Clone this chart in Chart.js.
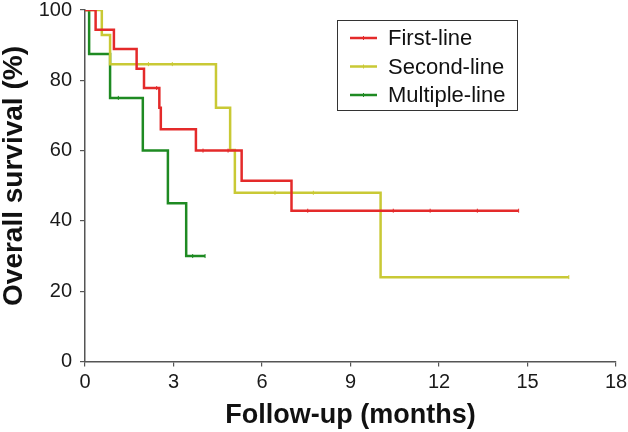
<!DOCTYPE html>
<html>
<head>
<meta charset="utf-8">
<script src="https://cdn.jsdelivr.net/npm/chart.js@4"></script>
<style>
  body { margin: 0; background: #fff; }
  canvas { display: block; }
</style>
</head>
<body>
<canvas id="chart" width="628" height="432"></canvas>
<script>
// Kaplan-Meier curves (months, % surviving, censored?)
const firstTimes  = [0, 0.36, 0.98, 1.75, 2.0, 2.43, 2.52, 2.57, 3.76, 4.0, 4.85, 5.31, 7.0, 7.55, 10.45, 11.7, 13.3, 14.7];
const firstSurv   = [100, 94.4, 88.9, 83.3, 77.8, 77.8, 72.2, 66.1, 60.0, 60.0, 60.0, 51.4, 42.9, 42.9, 42.9, 42.9, 42.9, 42.9];
const firstCens   = [0, 0, 0, 0, 0, 1, 0, 0, 0, 1, 1, 0, 0, 1, 1, 1, 1, 1];

const secondTimes = [0, 0.57, 0.85, 2.15, 2.96, 4.44, 4.92, 5.08, 6.44, 7.74, 10.02, 16.4];
const secondSurv  = [100, 92.9, 84.6, 84.6, 84.6, 72.2, 60.2, 48.0, 48.0, 48.0, 24.0, 24.0];
const secondCens  = [0, 0, 0, 1, 1, 0, 0, 0, 1, 1, 0, 1];

const multiTimes  = [0, 0.14, 0.85, 1.13, 1.96, 2.81, 3.43, 3.65, 4.07];
const multiSurv   = [100, 87.5, 75, 75, 60, 45, 30, 30, 30];
const multiCens   = [0, 0, 0, 1, 0, 0, 0, 1, 1];

const seriesLabels = ['First-line', 'Second-line', 'Multiple-line'];
const seriesColors = ['#e42a2a', '#c9c935', '#1e8a22'];

const xTicks = [0, 3, 6, 9, 12, 15, 18];
const yTicks = [0, 20, 40, 60, 80, 100];

const FONT = '"Liberation Sans", Arial, Helvetica, sans-serif';

function makeSet(label, color, times, surv, cens) {
  return {
    label: label,
    data: times.map((t, i) => ({ x: t, y: surv[i] })),
    borderColor: color,
    backgroundColor: color,
    borderWidth: 2.5,
    stepped: true,
    fill: false,
    pointStyle: 'line',
    rotation: 90,
    pointRadius: cens.map(c => (c ? 2 : 0)),
    pointBorderWidth: 1,
    pointHoverRadius: 0,
  };
}

// boxed legend in the upper right of the plot
const boxLegend = {
  id: 'boxLegend',
  afterDraw(chart) {
    const ctx = chart.ctx;
    const a = chart.chartArea;
    const left = a.left + 252, top = a.top + 10;
    const w = 180, h = 90;
    ctx.save();
    ctx.strokeStyle = '#333';
    ctx.lineWidth = 1;
    ctx.strokeRect(left + 0.5, top + 0.5, w, h);
    ctx.font = '22px ' + FONT;
    ctx.textBaseline = 'middle';
    chart.data.datasets.forEach((ds, i) => {
      const y = top + 18 + i * 28.5;
      ctx.strokeStyle = ds.borderColor;
      ctx.lineWidth = 2.5;
      ctx.beginPath();
      ctx.moveTo(left + 13, y);
      ctx.lineTo(left + 40, y);
      ctx.stroke();
      ctx.lineWidth = 1;
      ctx.beginPath();
      ctx.moveTo(left + 26.5, y - 2);
      ctx.lineTo(left + 26.5, y + 2);
      ctx.stroke();
      ctx.fillStyle = '#111';
      ctx.fillText(ds.label, left + 51, y + 1);
    });
    ctx.restore();
  }
};

// y axis title sits a little above the middle of the axis in the original
const yTitle = {
  id: 'yTitle',
  afterDraw(chart) {
    const ctx = chart.ctx;
    ctx.save();
    ctx.translate(14, 176);
    ctx.rotate(-Math.PI / 2);
    ctx.font = 'bold 28px ' + FONT;
    ctx.fillStyle = '#111';
    ctx.textAlign = 'center';
    ctx.textBaseline = 'middle';
    ctx.fillText('Overall survival (%)', 0, 0);
    ctx.restore();
  }
};

new Chart(document.getElementById('chart').getContext('2d'), {
  type: 'line',
  data: {
    datasets: [
      makeSet(seriesLabels[0], seriesColors[0], firstTimes, firstSurv, firstCens),
      makeSet(seriesLabels[1], seriesColors[1], secondTimes, secondSurv, secondCens),
      makeSet(seriesLabels[2], seriesColors[2], multiTimes, multiSurv, multiCens),
    ],
  },
  options: {
    responsive: false,
    animation: false,
    layout: { padding: { top: 10, right: 12, left: 0, bottom: 0 } },
    plugins: {
      legend: { display: false },
      tooltip: { enabled: false },
    },
    scales: {
      x: {
        type: 'linear',
        min: 0,
        max: 18,
        afterBuildTicks: (s) => { s.ticks = xTicks.map(v => ({ value: v })); },
        afterFit: (s) => { s.height = 70.5; s.paddingLeft = 0; s.paddingRight = 0; },
        ticks: { color: '#1a1a1a', font: { family: FONT, size: 20 }, padding: 4, maxRotation: 0 },
        grid: { drawOnChartArea: false, drawTicks: true, tickLength: 5, color: '#555', lineWidth: 1.2 },
        border: { display: true, color: '#555', width: 1.5 },
        title: {
          display: true,
          text: 'Follow-up (months)',
          color: '#111',
          font: { family: FONT, size: 27, weight: 'bold' },
          padding: { top: 0, bottom: 0 },
        },
      },
      y: {
        min: 0,
        max: 100,
        afterBuildTicks: (s) => { s.ticks = yTicks.map(v => ({ value: v })); },
        afterFit: (s) => { s.width = 85; s.paddingTop = 0; s.paddingBottom = 0; },
        ticks: { color: '#1a1a1a', font: { family: FONT, size: 20 }, padding: 8 },
        grid: { drawOnChartArea: false, drawTicks: true, tickLength: 5, color: '#555', lineWidth: 1.2 },
        border: { display: true, color: '#555', width: 1.5 },
        title: { display: false },
      },
    },
  },
  plugins: [boxLegend, yTitle],
});
</script>
</body>
</html>
